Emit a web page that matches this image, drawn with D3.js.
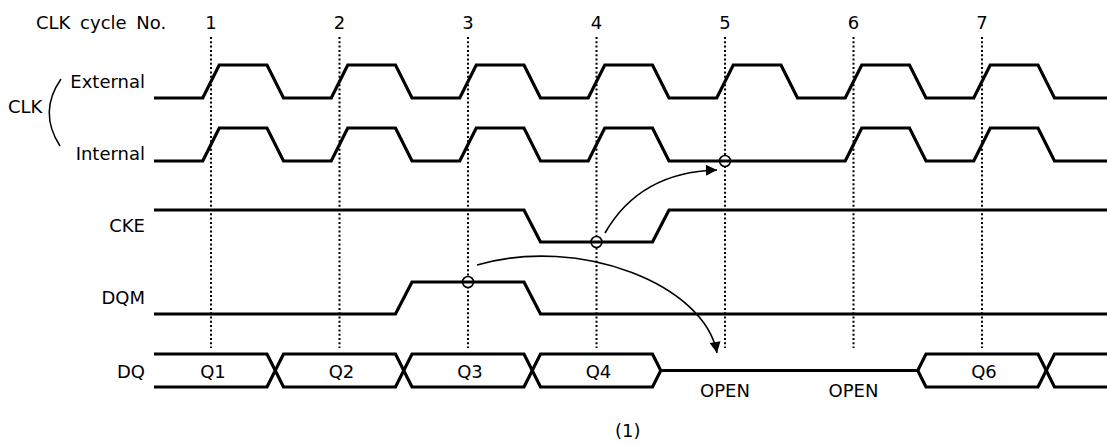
<!DOCTYPE html>
<html>
<head>
<meta charset="utf-8">
<script src="https://cdn.jsdelivr.net/npm/d3@7/dist/d3.min.js"></script>
<style>
    body { margin: 0; background: #fff; }
    text { font-family: "DejaVu Sans", sans-serif; font-size: 18px; fill: #000; }
</style>
</head>
<body>
<svg width="1107" height="444"></svg>
<script>
// clock cycle numbers shown on top
var cycles = [1, 2, 3, 4, 5, 6, 7];

// signal levels, one entry per half cycle, first slot starts at cycle 0.5
var clkExternal = [0, 1, 0, 1, 0, 1, 0, 1, 0, 1, 0, 1, 0, 1, 0];
var clkInternal = [0, 1, 0, 1, 0, 1, 0, 1, 0, 0, 0, 1, 0, 1, 0];
var cke         = [1, 1, 1, 1, 1, 1, 0, 0, 1, 1, 1, 1, 1, 1, 1];
var dqm         = [0, 0, 0, 0, 1, 1, 0, 0, 0, 0, 0, 0, 0, 0, 0];

// DQ bus, one slot per cycle (fall edge to fall edge), first slot starts at cycle 0.5
var dqLabels = ["Q1", "Q2", "Q3", "Q4", "OPEN", "OPEN", "Q6", ""];
var dqHighZ  = [0, 0, 0, 0, 1, 1, 0, 0];

// sample points (circles) and the arrows between them
var samples = [
    ["Internal", 5, 0],
    ["CKE", 4, 0],
    ["DQM", 3, 1]
];

var svg = d3.select("svg"),
    width = +svg.attr("width"),
    height = +svg.attr("height");

var x0 = 154, x1 = width,
    ew = 8.25;   // half width of an edge

var x = d3.scaleLinear()
    .domain([1, 8])
    .range([211, 211 + 7 * 128.5]);

// y of low / high level for each row
var rows = {
    "External": d3.scaleLinear().domain([0, 1]).range([98, 65]),
    "Internal": d3.scaleLinear().domain([0, 1]).range([161, 128]),
    "CKE":      d3.scaleLinear().domain([0, 1]).range([242, 210]),
    "DQM":      d3.scaleLinear().domain([0, 1]).range([314, 282])
};
var bus = d3.scaleLinear().domain([0, 1]).range([387, 354]);

var line = d3.line();

svg.append("defs").append("marker")
        .attr("id", "head")
        .attr("viewBox", "0 0 10 10")
        .attr("refX", 10)
        .attr("refY", 5)
        .attr("markerUnits", "userSpaceOnUse")
        .attr("markerWidth", 12)
        .attr("markerHeight", 11)
        .attr("orient", "auto")
    .append("path")
        .attr("d", "M0,0L10,5L0,10z")
        .attr("fill", "#000");

// dotted cycle markers
svg.append("g")
    .selectAll("line")
    .data(cycles)
    .enter().append("line")
        .attr("x1", function(d) { return x(d); })
        .attr("x2", function(d) { return x(d); })
        .attr("y1", 37)
        .attr("y2", 348)
        .attr("stroke", "#000")
        .attr("stroke-width", 2)
        .attr("stroke-dasharray", "2,2.3");

svg.append("g")
    .selectAll("text")
    .data(cycles)
    .enter().append("text")
        .attr("x", function(d) { return x(d); })
        .attr("y", 29)
        .attr("text-anchor", "middle")
        .text(function(d) { return d; });

svg.append("text")
    .attr("x", 36)
    .attr("y", 29)
    .style("word-spacing", "4px")
    .text("CLK cycle No.");

// sample circles, white inside so the dotted line stops at them
svg.append("g")
    .selectAll("circle")
    .data(samples)
    .enter().append("circle")
        .attr("cx", function(d) { return x(d[1]); })
        .attr("cy", function(d) { return rows[d[0]](d[2]); })
        .attr("r", 5.5)
        .attr("fill", "#fff")
        .attr("stroke", "#000")
        .attr("stroke-width", 1.6);

// waveform from half cycle levels
function wave(levels, y) {
    var pts = [[x0, y(levels[0])]];
    for (var i = 1; i < levels.length; i++) {
        if (levels[i] != levels[i - 1]) {
            var e = x(0.5 + 0.5 * i);
            pts.push([e - ew, y(levels[i - 1])]);
            pts.push([e + ew, y(levels[i])]);
        }
    }
    pts.push([x1, y(levels[levels.length - 1])]);
    return line(pts);
}

var signals = [
    ["External", clkExternal],
    ["Internal", clkInternal],
    ["CKE", cke],
    ["DQM", dqm]
];

svg.append("g")
    .selectAll("path")
    .data(signals)
    .enter().append("path")
        .attr("d", function(d) { return wave(d[1], rows[d[0]]); })
        .attr("fill", "none")
        .attr("stroke", "#000")
        .attr("stroke-width", 3.2)
        .attr("stroke-linejoin", "miter");

// DQ bus: two traces that swap sides at each crossing and meet in the middle when open
function busTrace(flip) {
    var lv = dqLabels.map(function(d, j) {
        return dqHighZ[j] ? 0.5 : (j + flip) % 2;
    });
    var pts = [[x0, bus(lv[0])]];
    for (var j = 1; j < lv.length; j++) {
        if (dqHighZ[j] && dqHighZ[j - 1]) continue;
        var e = x(0.5 + j);
        pts.push([e - (dqHighZ[j - 1] ? 0 : ew), bus(lv[j - 1])]);
        pts.push([e + (dqHighZ[j] ? 0 : ew), bus(lv[j])]);
    }
    pts.push([x1, bus(lv[lv.length - 1])]);
    return line(pts);
}

svg.append("g")
    .selectAll("path")
    .data([0, 1])
    .enter().append("path")
        .attr("d", busTrace)
        .attr("fill", "none")
        .attr("stroke", "#000")
        .attr("stroke-width", 3.2);

svg.append("g")
    .selectAll("text")
    .data(dqLabels)
    .enter().append("text")
        .attr("x", function(d, j) { return x(1 + j) + (dqHighZ[j] ? 0 : 2); })
        .attr("y", function(d, j) { return dqHighZ[j] ? 397 : 378; })
        .attr("text-anchor", "middle")
        .text(function(d) { return d; });

// row labels
var labels = [
    ["External", 88],
    ["Internal", 160],
    ["CKE", 232],
    ["DQM", 304],
    ["DQ", 378]
];
svg.append("g")
    .selectAll("text")
    .data(labels)
    .enter().append("text")
        .attr("x", 145)
        .attr("y", function(d) { return d[1]; })
        .attr("text-anchor", "end")
        .text(function(d) { return d[0]; });

svg.append("text")
    .attr("x", 8)
    .attr("y", 113)
    .text("CLK");

svg.append("path")
    .attr("d", "M61,79Q38,112 60,146")
    .attr("fill", "none")
    .attr("stroke", "#000")
    .attr("stroke-width", 1.5);

// arrows: CKE -> internal clock, DQM -> DQ
var arrows = [
    "M605,233Q640,172 717,170",
    "M477,265C580,235 705,285 717,353"
];
svg.append("g")
    .selectAll("path")
    .data(arrows)
    .enter().append("path")
        .attr("d", function(d) { return d; })
        .attr("fill", "none")
        .attr("stroke", "#000")
        .attr("stroke-width", 1.6)
        .attr("marker-end", "url(#head)");

svg.append("text")
    .attr("x", 615)
    .attr("y", 437)
    .text("(1)");
</script>
</body>
</html>
